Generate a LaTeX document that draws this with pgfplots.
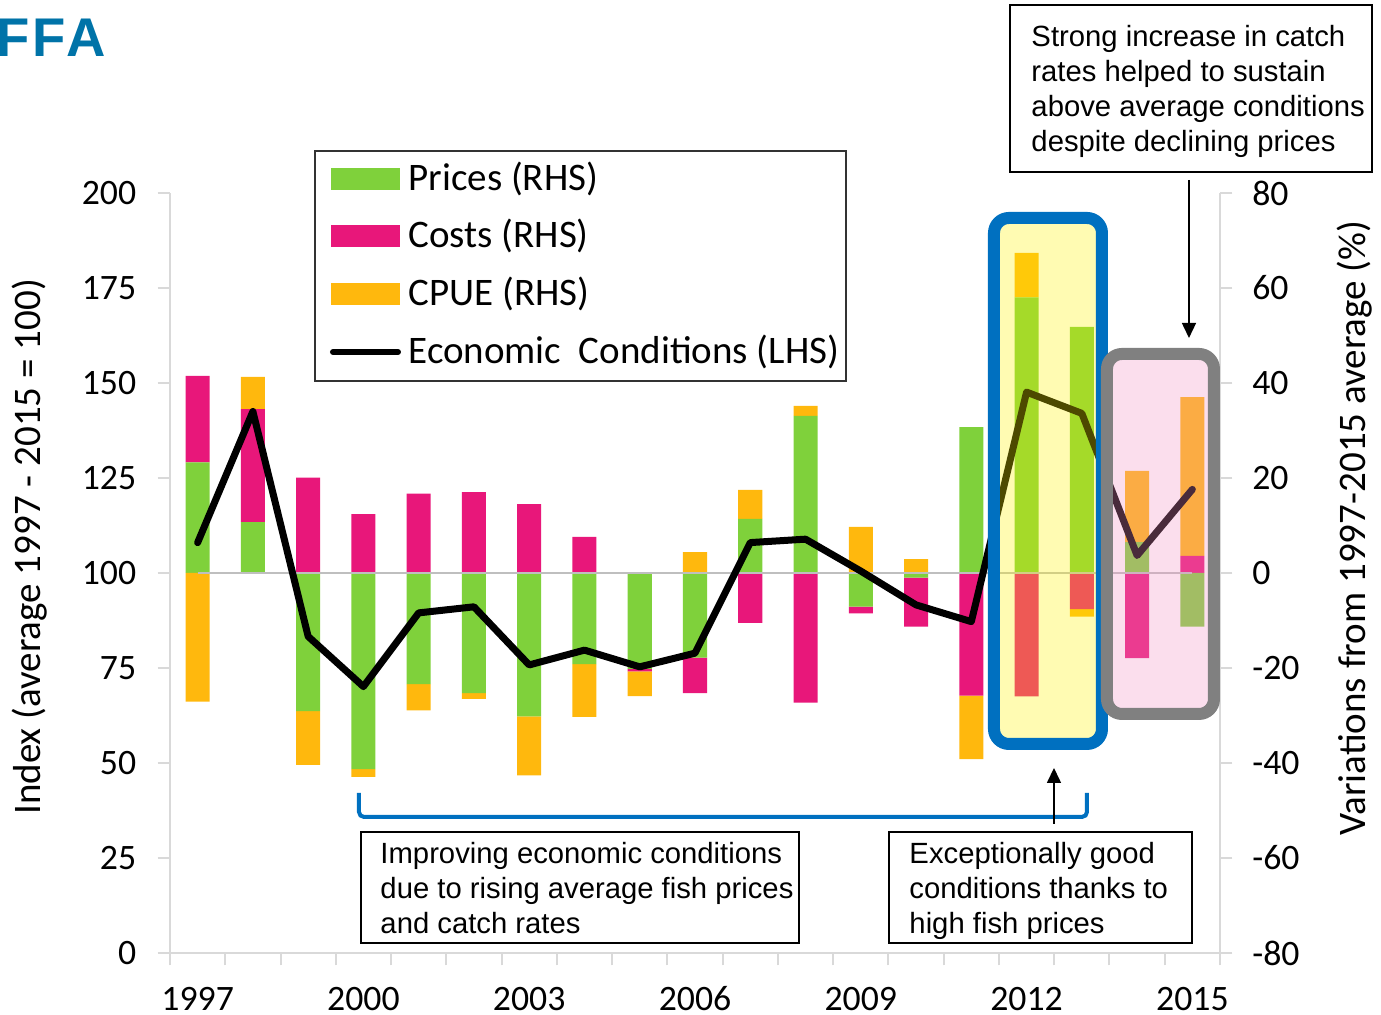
\documentclass[border=0pt]{standalone}
\usepackage{fontspec}
\setmainfont{Carlito}
\newfontfamily\arialf{Liberation Sans}
\usepackage{pgfplots}
\pgfplotsset{compat=1.18}
\usepackage{pgfplotstable}
\usetikzlibrary{arrows.meta}

\definecolor{cgreen}{HTML}{7FD13B}
\definecolor{cpink}{HTML}{E8177A}
\definecolor{corange}{HTML}{FFB80D}
\definecolor{axgrey}{HTML}{D9D9D9}
\definecolor{zgrey}{HTML}{BFBFBF}
\definecolor{ffablue}{HTML}{0073A8}
\definecolor{boxblue}{HTML}{0070C0}
\definecolor{boxgrey}{HTML}{808080}
\definecolor{ovpink}{RGB}{243,145,197}

% Contributions (RHS, % from 1997-2015 average): G = prices, P = costs, O = CPUE
\pgfplotstableread{
year G P O
1997 23.3 18.2 -27.1
1998 10.7 23.8 6.8
1999 -29.1 20.1 -11.3
2000 -41.3 12.4 -1.6
2001 -23.4 16.7 -5.5
2002 -25.3 17.0 -1.2
2003 -30.2 14.5 -12.4
2004 -19.2 7.6 -11.1
2005 -20.2 -0.5 -5.2
2006 -17.8 -7.5 4.4
2007 11.4 -10.5 6.1
2008 33.1 -27.3 2.1
2009 -7.1 -1.4 9.7
2010 -1.0 -10.3 2.9
2011 30.7 -25.8 -13.4
2012 58.0 -26.0 9.4
2013 51.8 -7.6 -1.6
2014 6.5 -17.9 15.0
2015 -11.3 3.6 33.4
}\bars

% Economic conditions index (LHS)
\pgfplotstableread{
year E
1997 108.0
1998 142.5
1999 83.3
2000 70.1
2001 89.5
2002 91.1
2003 75.8
2004 79.7
2005 75.3
2006 78.9
2007 108.0
2008 108.9
2009 100.5
2010 91.6
2011 87.2
2012 147.6
2013 142.0
2014 104.6
2015 122.0
}\econ

\pgfplotsset{
  /pgf/number format/assume math mode=true,
  /pgf/number format/1000 sep={},
  base/.style={scale only axis, width=420pt, height=304pt,
    xmin=1996.5, xmax=2015.5, at={(68pt,24.8pt)}, anchor=south west},
  ticky/.style={tick align=outside, major tick length=5pt,
    tick style={axgrey, line width=0.8pt},
    axis line style={axgrey, line width=0.8pt, -},
    tick label style={font=\fontsize{14.3}{16}\selectfont}},
}

\newcommand{\annfont}{\arialf\fontsize{11.7}{14}\selectfont}
\newcommand{\legfont}{\fontsize{15.6}{18}\selectfont}

\begin{document}
\begin{tikzpicture}
% positive stacks (RHS)
\begin{axis}[base, ticky, ymin=-80, ymax=80,
  axis y line*=right, axis x line*=bottom,
  ytick={-80,-60,...,80},
  yticklabel style={xshift=4.4pt},
  xtick={1996.5,1997.5,1998.5,1999.5,2000.5,2001.5,2002.5,2003.5,2004.5,2005.5,2006.5,2007.5,2008.5,2009.5,2010.5,2011.5,2012.5,2013.5,2014.5,2015.5},
  xticklabels={},
  extra x ticks={1997,2000,2003,2006,2009,2012,2015},
  extra x tick style={major tick length=0pt,
    xticklabel style={anchor=base, yshift=-23.0pt}},
  ybar stacked, bar width=0.435]
\addplot[fill=cgreen, draw=none] table[x=year, y expr={max(\thisrow{G},0)}] {\bars};
\addplot[fill=cpink, draw=none] table[x=year, y expr={max(\thisrow{P},0)}] {\bars};
\addplot[fill=corange, draw=none] table[x=year, y expr={max(\thisrow{O},0)}] {\bars};
\end{axis}
% negative stacks (RHS)
\begin{axis}[base, ymin=-80, ymax=80, hide axis, ybar stacked, bar width=0.435]
\addplot[fill=cgreen, draw=none] table[x=year, y expr={min(\thisrow{G},0)}] {\bars};
\addplot[fill=cpink, draw=none] table[x=year, y expr={min(\thisrow{P},0)}] {\bars};
\addplot[fill=corange, draw=none] table[x=year, y expr={min(\thisrow{O},0)}] {\bars};
\end{axis}
% index (LHS)
\begin{axis}[base, ticky, ymin=0, ymax=200,
  axis y line*=left, axis x line=none,
  ytick={0,25,...,200},
  yticklabel style={xshift=-5pt}]
\addplot[zgrey, line width=0.8pt] coordinates {(1997,100) (2015,100)};
\addplot[black, line width=2.8pt, line join=round, line cap=round] table[x=year, y=E] {\econ};
\end{axis}

\begin{scope}[x=0.4pt, y=-0.4pt, shift={(0pt,406pt)}]
% axis titles
\node[rotate=90, font=\legfont] at (30,547) {Index (average 1997 - 2015 = 100)};
\node[rotate=90, font=\legfont] at (1355,528) {Variations from 1997-2015 average (\%)};
% logo
\node[anchor=base east, inner sep=0pt, text=ffablue, font=\arialf\bfseries\fontsize{21.8}{22}\selectfont\addfontfeature{LetterSpace=6}] at (106,57) {FFA};
% highlight boxes
\draw[boxblue, line width=4.8pt, rounded corners=6pt, fill=yellow, fill opacity=0.3] (994,218) rectangle (1102,744);
\draw[boxgrey, line width=4.8pt, rounded corners=6pt, fill=ovpink, fill opacity=0.3] (1107,354) rectangle (1214,714);
% bracket and arrows
\draw[boxblue, line width=1.6pt, rounded corners=2pt] (359,793) -- (359,817) -- (1087,817) -- (1087,793);
\draw[black, line width=0.6pt, -{Triangle[length=6pt,width=5.6pt]}] (1054,824) -- (1054,768);
\draw[black, line width=0.6pt, -{Triangle[length=6pt,width=5.6pt]}] (1189,180) -- (1189,338);
% legend
\draw[black!80, line width=0.6pt, fill=white] (315,151) rectangle (846,381);
\fill[cgreen] (331,168) rectangle (400,190);
\fill[cpink] (331,225) rectangle (400,247);
\fill[corange] (331,283) rectangle (400,305);
\draw[black, line width=2.4pt, line cap=round] (333,352) -- (398,352);
\node[anchor=west, inner sep=0pt, font=\legfont] at (408,179) {Prices (RHS)};
\node[anchor=west, inner sep=0pt, font=\legfont] at (408,236) {Costs (RHS)};
\node[anchor=west, inner sep=0pt, font=\legfont] at (408,294) {CPUE (RHS)};
\node[anchor=west, inner sep=0pt, font=\legfont] at (408,352) {Economic\ \ Conditions (LHS)};
% annotation boxes
\draw[black, line width=0.6pt, fill=white] (1010,5) rectangle (1372,172);
\node[anchor=base west, inner sep=0pt, font=\annfont] at (1031,47) {Strong increase in catch};
\node[anchor=base west, inner sep=0pt, font=\annfont] at (1031,82) {rates helped to sustain};
\node[anchor=base west, inner sep=0pt, font=\annfont] at (1031,117) {above average conditions};
\node[anchor=base west, inner sep=0pt, font=\annfont] at (1031,152) {despite declining prices};
\draw[black, line width=0.6pt, fill=white] (361,832) rectangle (799,943);
\node[anchor=base west, inner sep=0pt, font=\annfont] at (380,864) {Improving economic conditions};
\node[anchor=base west, inner sep=0pt, font=\annfont] at (380,899) {due to rising average fish prices};
\node[anchor=base west, inner sep=0pt, font=\annfont] at (380,934) {and catch rates};
\draw[black, line width=0.6pt, fill=white] (889,832) rectangle (1192,943);
\node[anchor=base west, inner sep=0pt, font=\annfont] at (909,864) {Exceptionally good};
\node[anchor=base west, inner sep=0pt, font=\annfont] at (909,899) {conditions thanks to};
\node[anchor=base west, inner sep=0pt, font=\annfont] at (909,934) {high fish prices};
\end{scope}
\pgfresetboundingbox
\useasboundingbox (0pt,0pt) rectangle (552.4pt,406pt);
\end{tikzpicture}
\end{document}
